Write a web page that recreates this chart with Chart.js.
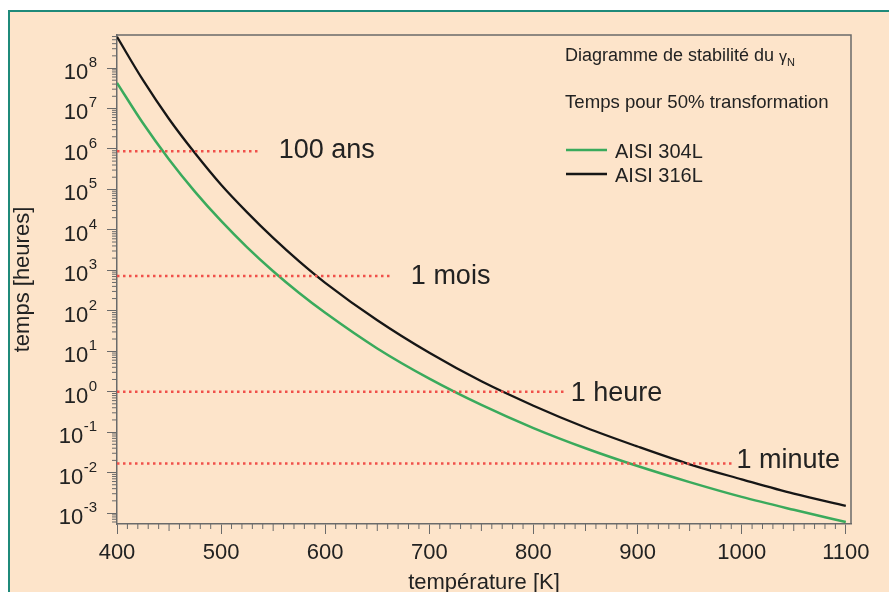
<!DOCTYPE html>
<html>
<head>
<meta charset="utf-8">
<script src="https://cdn.jsdelivr.net/npm/chart.js@4.4.0/dist/chart.umd.min.js"></script>
<style>
  html, body { margin: 0; padding: 0; background: #fff; }
  body { width: 889px; height: 592px; overflow: hidden; position: relative; }
  #frame { position: absolute; left: 8px; top: 10px; width: 920px; height: 620px;
           background: #fde4ca; border-left: 2px solid #1f8a7a; border-top: 2px solid #1f8a7a; }
  #wrap { position: absolute; left: 0; top: 0; width: 889px; height: 592px; }
</style>
</head>
<body>
<div id="frame"></div>
<div id="wrap"><canvas id="chart"></canvas></div>
<script>
// Temperature [K] and time to 50% transformation [hours]
const temperatures = [400, 425, 450, 475, 500, 525, 550, 575, 600, 650, 700, 750, 800, 850, 900, 950, 1000, 1050, 1100];
const aisi304L = [4.3e7, 4.3e6, 5.5e5, 8.7e4, 1.66e4, 3.7e3, 950, 275, 89, 11.7, 2.1, 0.47, 0.126, 0.040, 0.0145, 0.0058, 0.0025, 0.0012, 0.0006];
const aisi316L = [5.9e8, 5.0e7, 5.5e6, 7.8e5, 1.3e5, 2.7e4, 6.3e3, 1.66e3, 490, 58, 9.1, 1.8, 0.45, 0.13, 0.044, 0.016, 0.0068, 0.0030, 0.0015];

// Reference durations (dotted lines)
const refLabels = ["100 ans", "1 mois", "1 heure", "1 minute"];
const refHours = [876000, 720, 1, 0.0167];
const refEndTemp = [538, 664, 830, 993];

const xTicks = [400, 500, 600, 700, 800, 900, 1000, 1100];
const yExponents = [-3, -2, -1, 0, 1, 2, 3, 4, 5, 6, 7, 8];

const FONT = "'Liberation Sans', Arial, sans-serif";
const TEXT = "#222";
const AXIS = "#6a6a6a";
const GREEN = "#3aaa5c";
const BLACK = "#161616";
const RED = "#f0504a";

// label placement next to the dotted lines
const labelGap = [18, 19, 6, 2];
const labelDrop = [7, 8, 9, 4];

const refSets = refHours.map((h, i) => ({
  label: refLabels[i],
  data: [{ x: 400, y: h }, { x: refEndTemp[i], y: h }],
  borderColor: RED,
  borderWidth: 2.5,
  borderDash: [2.5, 3.5],
  pointRadius: 0,
  order: 0
}));

const extras = {
  id: "extras",
  afterDraw(chart) {
    const { ctx, chartArea: a } = chart;
    const x = chart.scales.x, y = chart.scales.y;
    ctx.save();

    // top + right frame of the plot
    ctx.strokeStyle = AXIS;
    ctx.lineWidth = 1.5;
    ctx.beginPath();
    ctx.moveTo(a.left, a.top);
    ctx.lineTo(a.right, a.top);
    ctx.lineTo(a.right, a.bottom);
    ctx.stroke();

    // minor ticks
    ctx.lineWidth = 1;
    ctx.beginPath();
    for (let v = 410; v < x.max; v += 10) {
      if (v % 100 === 0) continue;
      const px = x.getPixelForValue(v);
      const len = v % 50 === 0 ? 7 : 5;
      ctx.moveTo(px, a.bottom);
      ctx.lineTo(px, a.bottom + len);
    }
    [-4].concat(yExponents).forEach(e => {
      for (let m = 2; m <= 9; m++) {
        const v = m * Math.pow(10, e);
        if (v < y.min || v > y.max) continue;
        const py = y.getPixelForValue(v);
        ctx.moveTo(a.left, py);
        ctx.lineTo(a.left - 5, py);
      }
    });
    ctx.stroke();

    // y tick labels as 10 with superscript exponent
    ctx.fillStyle = TEXT;
    ctx.textAlign = "right";
    ctx.textBaseline = "alphabetic";
    yExponents.forEach(e => {
      const py = y.getPixelForValue(Math.pow(10, e));
      const exp = String(e);
      ctx.font = "15px " + FONT;
      const w = ctx.measureText(exp).width;
      ctx.fillText(exp, 97, py - 1);
      ctx.font = "22px " + FONT;
      ctx.fillText("10", 97 - w - 0.5, py + 11);
    });

    // labels of the dotted lines
    ctx.textAlign = "left";
    ctx.font = "27px " + FONT;
    refLabels.forEach((t, i) => {
      const px = x.getPixelForValue(refEndTemp[i]) + labelGap[i];
      const py = y.getPixelForValue(refHours[i]) + labelDrop[i];
      ctx.fillText(t, px, py);
    });

    // legend block
    ctx.font = "18px " + FONT;
    const head = "Diagramme de stabilité du ";
    ctx.fillText(head, 565, 61);
    const hw = ctx.measureText(head).width;
    ctx.font = "16px " + FONT;
    ctx.fillText("γ", 565 + hw, 62);
    const gw = ctx.measureText("γ").width;
    ctx.font = "11px " + FONT;
    ctx.fillText("N", 565 + hw + gw, 66);

    ctx.font = "18.6px " + FONT;
    ctx.fillText("Temps pour 50% transformation", 565, 108);

    const items = chart.data.datasets.slice(0, 2);
    items.forEach((ds, i) => {
      const ly = 150 + i * 24;
      ctx.strokeStyle = ds.borderColor;
      ctx.lineWidth = 2.5;
      ctx.beginPath();
      ctx.moveTo(566, ly);
      ctx.lineTo(607, ly);
      ctx.stroke();
      ctx.font = "20px " + FONT;
      ctx.fillText(ds.label, 615, ly + 7.5);
    });

    ctx.restore();
  }
};

new Chart(document.getElementById("chart"), {
  type: "line",
  data: {
    datasets: [
      {
        label: "AISI 304L",
        data: temperatures.map((t, i) => ({ x: t, y: aisi304L[i] })),
        borderColor: GREEN,
        borderWidth: 2.5,
        pointRadius: 0,
        cubicInterpolationMode: "monotone",
        order: 1
      },
      {
        label: "AISI 316L",
        data: temperatures.map((t, i) => ({ x: t, y: aisi316L[i] })),
        borderColor: BLACK,
        borderWidth: 2.3,
        pointRadius: 0,
        cubicInterpolationMode: "monotone",
        order: 1
      },
      ...refSets
    ]
  },
  options: {
    responsive: true,
    maintainAspectRatio: false,
    animation: false,
    layout: { padding: { left: 0, top: 35, right: 38, bottom: 0 } },
    plugins: {
      legend: { display: false },
      tooltip: { enabled: false }
    },
    scales: {
      x: {
        type: "linear",
        position: "bottom",
        min: 400,
        max: 1105,
        afterBuildTicks: s => { s.ticks = xTicks.map(v => ({ value: v })); },
        afterFit: s => { s.height = 68; },
        ticks: {
          font: { family: FONT, size: 22 },
          color: TEXT,
          padding: 6,
          maxRotation: 0,
          autoSkip: false,
          callback: v => String(v)
        },
        grid: { drawOnChartArea: false, tickLength: 10, color: AXIS, lineWidth: 1 },
        border: { color: AXIS, width: 1.5 },
        title: {
          display: true,
          text: "température [K]",
          color: TEXT,
          font: { family: FONT, size: 22, lineHeight: 0.8 },
          padding: 0
        }
      },
      y: {
        type: "logarithmic",
        min: 5.35e-4,
        max: 6.55e8,
        afterBuildTicks: s => { s.ticks = yExponents.map(e => ({ value: Math.pow(10, e), major: true })); },
        afterFit: s => { s.width = 117; },
        ticks: { display: false },
        grid: { drawOnChartArea: false, tickLength: 10, color: AXIS, lineWidth: 1 },
        border: { color: AXIS, width: 1.5 },
        title: {
          display: true,
          text: "temps [heures]",
          color: TEXT,
          font: { family: FONT, size: 22, lineHeight: 1 },
          padding: { top: 12, bottom: 0 }
        }
      }
    }
  },
  plugins: [extras]
});
</script>
</body>
</html>
